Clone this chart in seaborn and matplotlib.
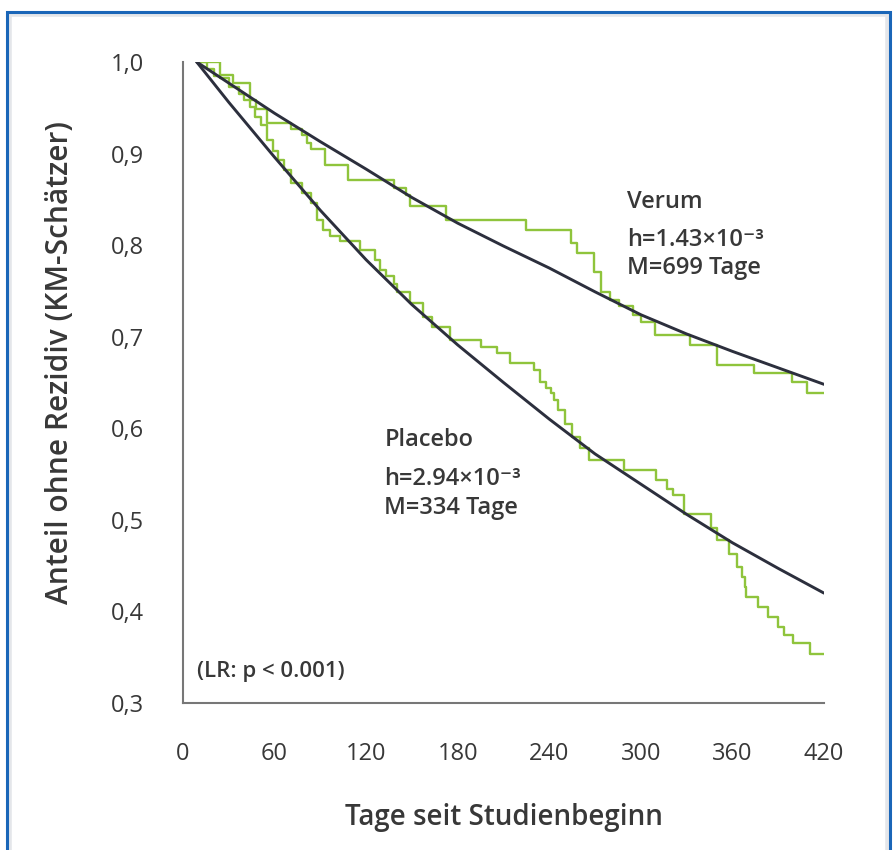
import matplotlib
matplotlib.use('Agg')
import matplotlib.pyplot as plt
import seaborn as sns
import pandas as pd
from matplotlib.patches import Rectangle

# Kaplan-Meier Stufen (Tag, Anteil ohne Rezidiv)
verum_km_t = [9, 24, 33, 44, 48, 55, 71, 78, 81, 84, 93, 108, 138, 146, 149, 172, 225, 254, 258, 269,
              274, 280, 286, 295, 300, 309, 332, 350, 374, 399, 409, 420]
verum_km_s = [1.0, 0.986, 0.977, 0.958, 0.949, 0.933, 0.927, 0.920, 0.912, 0.905, 0.888, 0.871, 0.862, 0.855,
              0.843, 0.828, 0.816, 0.802, 0.791, 0.771, 0.749, 0.740, 0.733, 0.724, 0.716, 0.702, 0.691,
              0.669, 0.660, 0.651, 0.639, 0.639]

placebo_km_t = [9, 16, 20, 24, 30, 37, 40, 44, 47, 51, 55, 59, 62, 66, 71, 78, 84, 88, 92, 96,
                103, 116, 126, 129, 133, 138, 140, 149, 157, 163, 175, 195, 206, 214, 230, 234, 238, 241,
                243, 246, 250, 255, 260, 266, 289, 310, 317, 321, 328, 346, 350, 358, 363, 366, 368, 369,
                377, 383, 390, 394, 400, 411, 420]
placebo_km_s = [1.0, 0.992, 0.985, 0.982, 0.973, 0.965, 0.958, 0.951, 0.940, 0.931, 0.915, 0.903, 0.893,
                0.882, 0.868, 0.857, 0.846, 0.827, 0.817, 0.810, 0.804, 0.795, 0.784, 0.773, 0.766, 0.758,
                0.749, 0.737, 0.722, 0.711, 0.696, 0.689, 0.682, 0.671, 0.664, 0.651, 0.644, 0.638, 0.631,
                0.620, 0.605, 0.591, 0.578, 0.565, 0.554, 0.544, 0.534, 0.527, 0.506, 0.491, 0.478, 0.463,
                0.449, 0.438, 0.427, 0.416, 0.405, 0.394, 0.383, 0.374, 0.365, 0.354, 0.354]

# Modellkurven
fit_t = [9, 30, 60, 90, 120, 150, 180, 210, 240, 270, 300, 330, 360, 390, 420]
verum_fit = [1.0, 0.977, 0.944, 0.913, 0.883, 0.852, 0.824, 0.799, 0.775, 0.749, 0.724, 0.703, 0.684, 0.666, 0.648]
placebo_fit = [1.0, 0.956, 0.896, 0.838, 0.784, 0.735, 0.691, 0.650, 0.610, 0.572, 0.539, 0.506, 0.475, 0.447, 0.420]

x_ticks = [0, 60, 120, 180, 240, 300, 360, 420]
y_ticks = [0.3, 0.4, 0.5, 0.6, 0.7, 0.8, 0.9, 1.0]
y_ticklabels = ['0,3', '0,4', '0,5', '0,6', '0,7', '0,8', '0,9', '1,0']

sns.set_style('white')
plt.rcParams['font.family'] = ['Open Sans', 'DejaVu Sans']

green = '#8fc43c'
dark = '#2c2f3d'
gray = '#777777'
textc = '#383838'

fig = plt.figure(figsize=(8.94, 8.5), dpi=100)
fig.patch.set_facecolor('white')

# Rahmen
fig.patches.append(Rectangle((9/894, -0.02), (879)/894, (850-14)/850 + 0.02, transform=fig.transFigure,
                             fill=False, edgecolor='#e4e6ea', lw=4, zorder=0))
fig.patches.append(Rectangle((7/894, -0.02), (883)/894, (850-12)/850 + 0.02, transform=fig.transFigure,
                             fill=False, edgecolor='#1a66b8', lw=2.2, zorder=1))

ax = fig.add_axes([183/894, 147/850, (824-183)/894, (703-62)/850])
ax.set_facecolor('white')

km_v = pd.DataFrame({'t': verum_km_t, 's': verum_km_s})
km_p = pd.DataFrame({'t': placebo_km_t, 's': placebo_km_s})
fit = pd.DataFrame({'t': fit_t, 'verum': verum_fit, 'placebo': placebo_fit})

sns.lineplot(data=km_v, x='t', y='s', ax=ax, color=green, lw=1.7, drawstyle='steps-post',
             estimator=None, sort=False, zorder=2)
sns.lineplot(data=km_p, x='t', y='s', ax=ax, color=green, lw=1.7, drawstyle='steps-post',
             estimator=None, sort=False, zorder=2)
sns.lineplot(data=fit, x='t', y='verum', ax=ax, color=dark, lw=2.1, estimator=None, zorder=3)
sns.lineplot(data=fit, x='t', y='placebo', ax=ax, color=dark, lw=2.1, estimator=None, zorder=3)

ax.set_xlim(0, 420)
ax.set_ylim(0.3, 1.0)
ax.set_xticks(x_ticks)
ax.set_yticks(y_ticks)
ax.set_yticklabels(y_ticklabels)
for s in ['top', 'right']:
    ax.spines[s].set_visible(False)
for s in ['left', 'bottom']:
    ax.spines[s].set_color(gray)
    ax.spines[s].set_linewidth(1.5)
ax.tick_params(axis='x', direction='out', length=22, width=1.5, color=gray, pad=6,
               labelsize=17, labelcolor=textc)
ax.tick_params(axis='y', direction='out', length=22, width=1.5, color=gray, pad=6,
               labelsize=17, labelcolor=textc)

ax.set_xlabel('Tage seit Studienbeginn', fontsize=20, fontweight='semibold', color=textc)
ax.set_ylabel('Anteil ohne Rezidiv (KM-Schätzer)', fontsize=21.5, fontweight='semibold', color=textc)
ax.xaxis.label.set_va('center')
ax.yaxis.label.set_va('center')
ax.xaxis.set_label_coords(0.5, (703 - 818) / 641)
ax.yaxis.set_label_coords((60 - 183) / 641, (703 - 362) / 641)

txt = dict(fontsize=17, fontweight='semibold', color=textc, va='center', ha='left')
ax.text(291, 0.847, 'Verum', **txt)
ax.text(291, 0.806, 'h=1.43×10⁻³', **txt)
ax.text(291, 0.775, 'M=699 Tage', **txt)
ax.text(132, 0.587, 'Placebo', **txt)
ax.text(132, 0.545, 'h=2.94×10⁻³', **txt)
ax.text(132, 0.513, 'M=334 Tage', **txt)
ax.text(9, 0.334, '(LR: p < 0.001)', fontsize=16, fontweight='semibold', color=textc, va='center', ha='left')

plt.savefig('out.png', dpi=100)
